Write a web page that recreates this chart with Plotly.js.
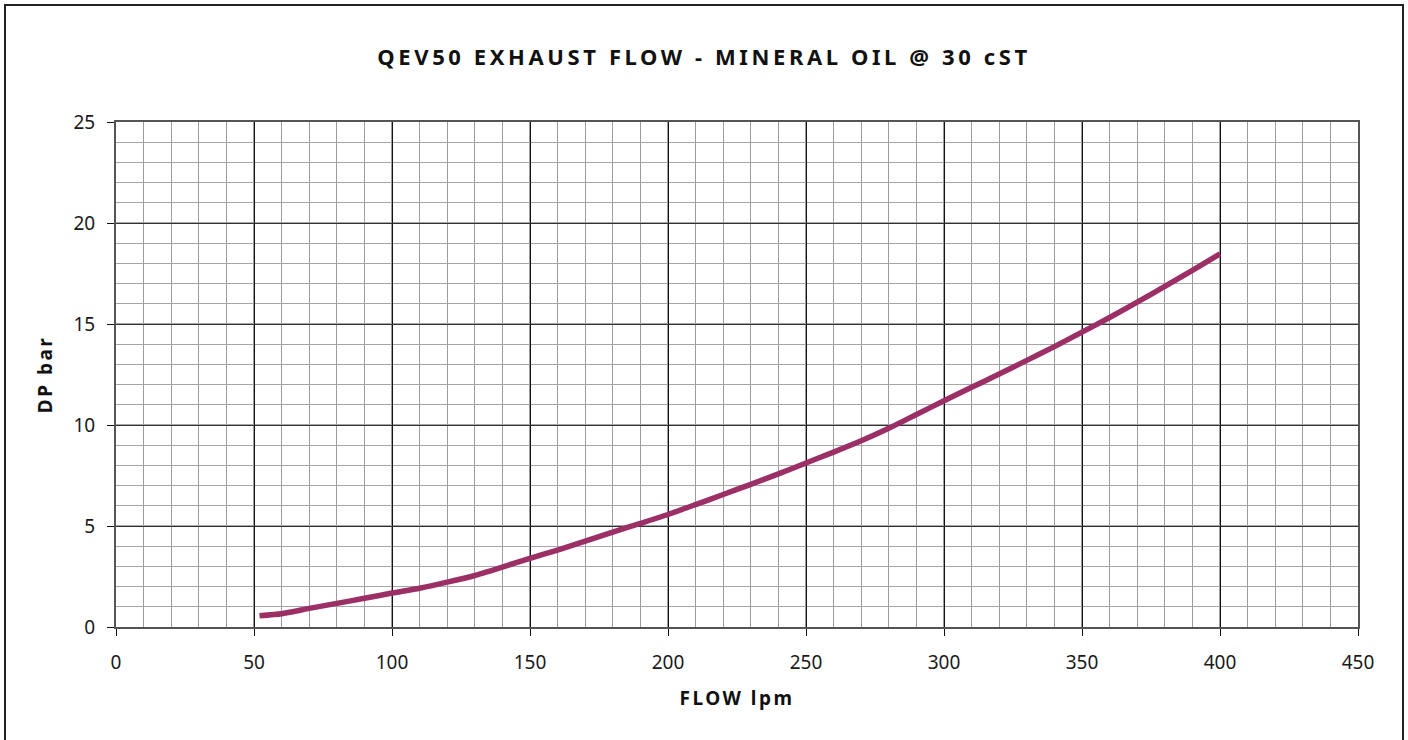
<!DOCTYPE html>
<html>
<head>
<meta charset="utf-8">
<script src="https://cdn.plot.ly/plotly-3.0.1.min.js"></script>
<style>
  html, body { margin: 0; padding: 0; background: #fff; }
  #chart { width: 1408px; height: 740px; }
  .gtitle { letter-spacing: 3.6px; }
  .xtitle, .ytitle { letter-spacing: 2.5px; }
</style>
</head>
<body>
<div id="chart"></div>
<script>
const chartTitle = "QEV50 EXHAUST FLOW - MINERAL OIL @ 30 cST";
const xTitle = "FLOW lpm";
const yTitle = "DP bar";

const flowLpm = [52, 60, 70, 80, 90, 100, 110, 120, 130, 140, 150, 160, 170, 180, 190, 200, 210, 220, 230, 240, 250, 260, 270, 280, 290, 300, 310, 320, 330, 340, 350, 360, 370, 380, 390, 400];
const dpBar = [0.56, 0.66, 0.92, 1.17, 1.42, 1.68, 1.92, 2.22, 2.55, 2.97, 3.40, 3.81, 4.25, 4.70, 5.13, 5.57, 6.06, 6.56, 7.06, 7.58, 8.12, 8.66, 9.22, 9.84, 10.52, 11.20, 11.87, 12.52, 13.20, 13.88, 14.60, 15.32, 16.08, 16.86, 17.66, 18.47];

const xTickVals = [0, 50, 100, 150, 200, 250, 300, 350, 400, 450];
const yTickVals = [0, 5, 10, 15, 20, 25];

const trace = {
  x: flowLpm,
  y: dpBar,
  type: 'scatter',
  mode: 'lines',
  line: { color: '#9c2f66', width: 5.5, shape: 'spline', smoothing: 0.6 },
  hoverinfo: 'x+y'
};

const tickFont = { family: 'Noto Sans, Open Sans, sans-serif', size: 19, color: '#1a1a1a' };
const titleFontFamily = 'Noto Sans, Open Sans, sans-serif';

const layout = {
  width: 1408,
  height: 740,
  margin: { l: 116, r: 50, t: 122, b: 113 },
  paper_bgcolor: '#ffffff',
  plot_bgcolor: '#ffffff',
  showlegend: false,
  title: {
    text: chartTitle,
    font: { family: titleFontFamily, size: 22, color: '#111', weight: 'bold' },
    x: 0.5,
    xanchor: 'center',
    y: 1 - 57 / 740,
    yanchor: 'middle'
  },
  xaxis: {
    range: [0, 450],
    tickvals: xTickVals,
    ticks: 'outside',
    ticklen: 7,
    tickcolor: '#111',
    tickfont: tickFont,
    ticklabelstandoff: 10,
    showgrid: true,
    gridcolor: '#111',
    gridwidth: 1,
    minor: { dtick: 10, showgrid: true, gridcolor: '#9d9d9d', gridwidth: 1.3 },
    showline: true,
    linecolor: '#555',
    linewidth: 2,
    mirror: true,
    zeroline: false,
    title: {
      text: xTitle,
      font: { family: titleFontFamily, size: 19, color: '#111', weight: 'bold' },
      standoff: 18
    }
  },
  yaxis: {
    range: [0, 25],
    tickvals: yTickVals,
    ticks: 'outside',
    ticklen: 7,
    tickcolor: '#111',
    tickfont: tickFont,
    ticklabelstandoff: 8,
    showgrid: true,
    gridcolor: '#333',
    gridwidth: 1,
    minor: { dtick: 1, showgrid: true, gridcolor: '#a6a6a6', gridwidth: 1.3 },
    showline: true,
    linecolor: '#555',
    linewidth: 2,
    mirror: true,
    zeroline: false,
    title: {
      text: yTitle,
      font: { family: titleFontFamily, size: 19, color: '#111', weight: 'bold' },
      standoff: 16
    }
  },
  shapes: [
    {
      type: 'rect', xref: 'paper', yref: 'paper',
      x0: (5 - 116) / 1242, x1: (1403 - 116) / 1242,
      y0: (627 - 760) / 505, y1: (627 - 5) / 505,
      line: { color: '#222', width: 2 },
      fillcolor: 'rgba(0,0,0,0)',
      layer: 'below'
    }
  ]
};

Plotly.newPlot('chart', [trace], layout, { displayModeBar: false, staticPlot: true });
</script>
</body>
</html>
